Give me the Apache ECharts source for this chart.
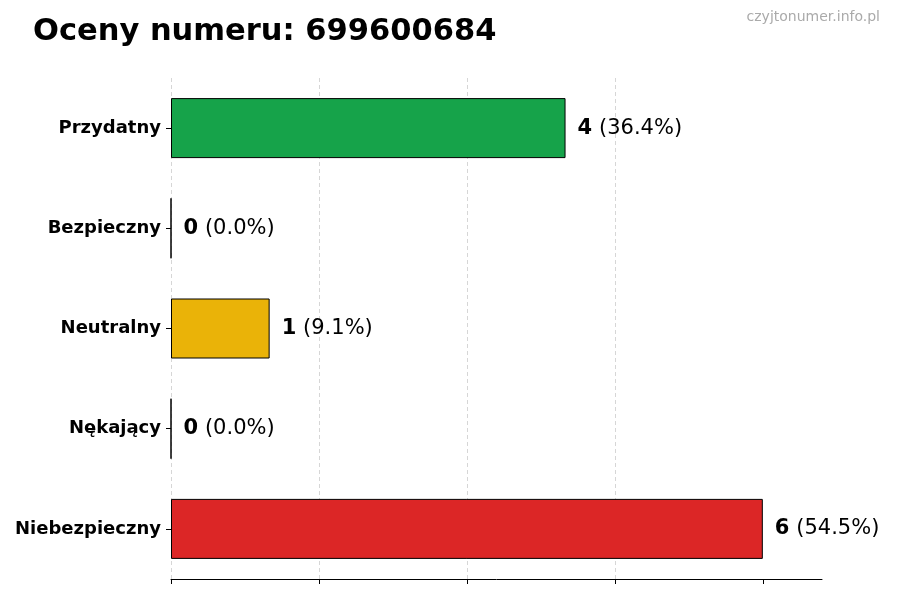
<!DOCTYPE html>
<html>
<head>
<meta charset="utf-8">
<script src="https://cdn.jsdelivr.net/npm/echarts@6/dist/echarts.min.js"></script>
<style>
  html, body { margin: 0; padding: 0; background: #fff; }
  #chart { width: 900px; height: 600px; }
</style>
</head>
<body>
<div id="chart"></div>
<script>
const categories = ['Przydatny', 'Bezpieczny', 'Neutralny', 'Nękający', 'Niebezpieczny'];
const counts = [4, 0, 1, 0, 6];
const barColors = ['#16a34a', '#9ca3af', '#eab308', '#f97316', '#dc2626'];
const tickValues = [0, 1.5, 3, 4.5, 6];

const total = counts.reduce((a, b) => a + b, 0);

const getOption = () => {
  return {
    animation: false,
    textStyle: { fontFamily: 'DejaVu Sans' },
    title: [
      {
        text: 'Oceny numeru: 699600684',
        left: 28, top: 12,
        textStyle: { fontSize: 30.5, fontWeight: 'bold', color: '#000', fontFamily: 'DejaVu Sans' }
      },
      {
        text: 'czyjtonumer.info.pl',
        right: 15, top: 5,
        textStyle: { fontSize: 14, fontWeight: 'normal', color: '#aaa', fontFamily: 'DejaVu Sans' }
      }
    ],
    grid: { left: 171, right: 78, top: 78, height: 501 },
    xAxis: {
      type: 'value',
      min: 0, max: 6.6, interval: 1.5,
      axisLine: { show: true, lineStyle: { color: '#000', width: 1 } },
      axisTick: { show: true, length: 5, customValues: tickValues, lineStyle: { color: '#000' } },
      axisLabel: { show: false },
      splitLine: { show: true, showMaxLine: false, lineStyle: { color: '#cccccc', type: [4, 3], width: 0.8 } }
    },
    yAxis: {
      type: 'category',
      data: categories,
      inverse: true,
      axisLine: { show: false },
      axisTick: { show: true, length: 5, alignWithLabel: true, lineStyle: { color: '#000' } },
      axisLabel: { fontSize: 18, fontWeight: 'bold', color: '#000', margin: 10, fontFamily: 'DejaVu Sans' }
    },
    series: [{
      type: 'bar',
      barWidth: 60,
      data: counts.map((v, i) => ({
        value: v,
        itemStyle: { color: barColors[i], borderColor: '#000', borderWidth: 1 }
      })),
      label: {
        show: true,
        position: 'right',
        distance: 12,
        formatter: p => '{b|' + p.value + '} {n|(' + (p.value / total * 100).toFixed(1) + '%)}',
        rich: {
          b: { fontSize: 21, fontWeight: 'bold', color: '#000', fontFamily: 'DejaVu Sans', padding: [0, 3, 0, 0] },
          n: { fontSize: 21, color: '#000', fontFamily: 'DejaVu Sans' }
        }
      },
      z: 1
    }]
  };
};

const initChart = () => {
  const chart = echarts.init(document.getElementById('chart'));
  chart.setOption(getOption());
};

window.addEventListener('load', () => {
  initChart();
});
</script>
</body>
</html>
